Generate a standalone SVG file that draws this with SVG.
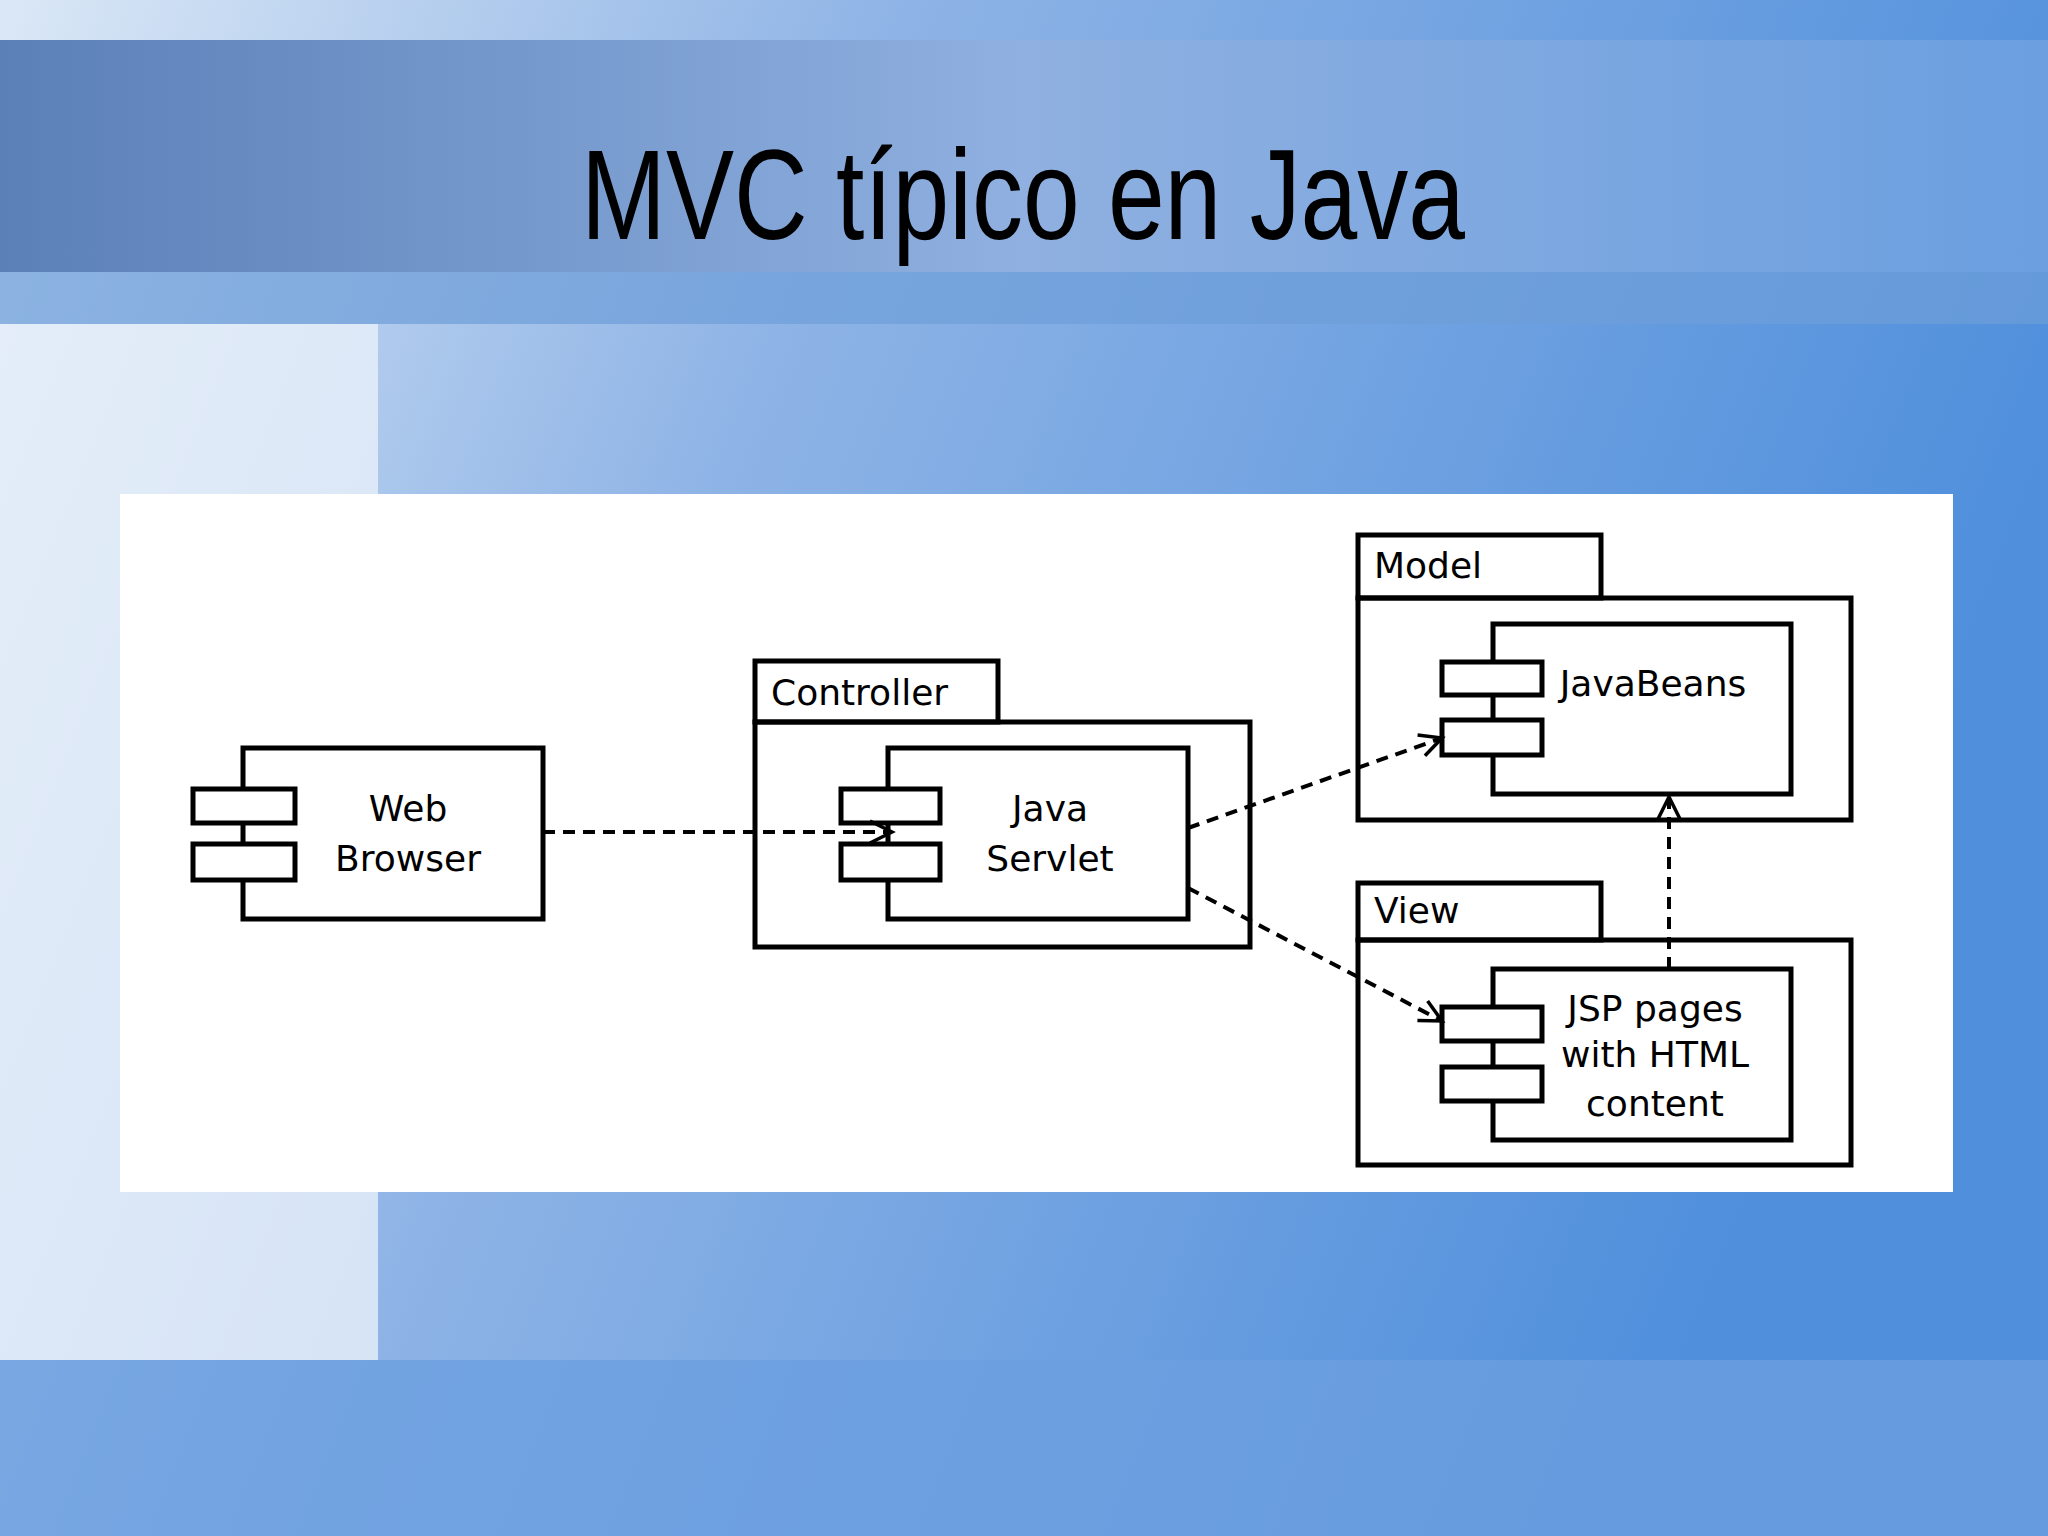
<svg xmlns="http://www.w3.org/2000/svg" width="2048" height="1536" viewBox="0 0 2048 1536">
<defs>
<linearGradient id="bg" x1="0" y1="0" x2="1" y2="0.3">
<stop offset="0" stop-color="#dbe8f6"/><stop offset="0.4" stop-color="#8fb4e6"/><stop offset="1" stop-color="#4f8fdc"/>
</linearGradient>
<linearGradient id="band" x1="0" y1="0" x2="1" y2="0">
<stop offset="0" stop-color="#5b80b8"/><stop offset="0.5" stop-color="#8fb0e0"/><stop offset="1" stop-color="#6b9fe0"/>
</linearGradient>
<marker id="ah" markerWidth="30" markerHeight="30" refX="24" refY="15" orient="auto" markerUnits="userSpaceOnUse">
<path d="M2,4 L24,15 L2,26" fill="none" stroke="#000" stroke-width="3.5"/>
</marker>
<style>
.b{fill:#fff;stroke:#000;stroke-width:5}
.p{fill:none;stroke:#000;stroke-width:5}
.t{font-family:"DejaVu Sans",sans-serif;font-size:36px;fill:#000}
.c{stroke:#000;stroke-width:4;stroke-dasharray:12,8;fill:none}
</style>
</defs>
<rect width="2048" height="1536" fill="url(#bg)"/>
<rect x="0" y="40" width="2048" height="232" fill="url(#band)"/>
<rect x="0" y="272" width="2048" height="52" fill="#6e9ed8" opacity="0.7"/>
<rect x="0" y="324" width="378" height="1036" fill="#e8f0fa" opacity="0.8"/>
<rect x="0" y="1360" width="2048" height="176" fill="#6b9fe0" opacity="0.8"/>
<text x="581" y="239" font-family="Liberation Sans, Arial, sans-serif" font-size="128" fill="#000" textLength="884" lengthAdjust="spacingAndGlyphs">MVC típico en Java</text>
<rect x="120" y="494" width="1833" height="698" fill="#fff"/>
<g id="browser">
<rect class="b" x="243" y="748" width="300" height="171"/>
<rect class="b" x="193" y="789" width="102" height="34"/>
<rect class="b" x="193" y="844" width="102" height="36"/>
<text class="t" x="408" y="821" text-anchor="middle">Web</text>
<text class="t" x="408" y="871" text-anchor="middle">Browser</text>
</g>
<g id="controller">
<rect class="p" x="755" y="661" width="243" height="61"/>
<rect class="p" x="755" y="722" width="495" height="225"/>
<text class="t" x="771" y="705">Controller</text>
</g>
<g id="servlet">
<rect class="b" x="888" y="748" width="300" height="171"/>
<rect class="b" x="841" y="789" width="99" height="34"/>
<rect class="b" x="841" y="844" width="99" height="36"/>
<text class="t" x="1050" y="821" text-anchor="middle">Java</text>
<text class="t" x="1050" y="871" text-anchor="middle">Servlet</text>
</g>
<g id="model">
<rect class="p" x="1358" y="535" width="243" height="63"/>
<rect class="p" x="1358" y="598" width="493" height="222"/>
<text class="t" x="1374" y="578">Model</text>
</g>
<g id="javabeans">
<rect class="b" x="1493" y="624" width="298" height="170"/>
<rect class="b" x="1442" y="662" width="100" height="33"/>
<rect class="b" x="1442" y="720" width="100" height="35"/>
<text class="t" x="1653" y="696" text-anchor="middle">JavaBeans</text>
</g>
<g id="view">
<rect class="p" x="1358" y="883" width="243" height="57"/>
<rect class="p" x="1358" y="940" width="493" height="225"/>
<text class="t" x="1374" y="923">View</text>
</g>
<g id="jsp">
<rect class="b" x="1493" y="969" width="298" height="171"/>
<rect class="b" x="1442" y="1007" width="100" height="34"/>
<rect class="b" x="1442" y="1067" width="100" height="34"/>
<text class="t" x="1655" y="1021" text-anchor="middle">JSP pages</text>
<text class="t" x="1655" y="1067" text-anchor="middle">with HTML</text>
<text class="t" x="1655" y="1116" text-anchor="middle">content</text>
</g>
<g id="connectors">
<line class="c" x1="543" y1="832" x2="892" y2="832" marker-end="url(#ah)"/>
<line class="c" x1="1188" y1="828" x2="1442" y2="738" marker-end="url(#ah)"/>
<line class="c" x1="1188" y1="888" x2="1442" y2="1021" marker-end="url(#ah)"/>
<line class="c" x1="1669" y1="969" x2="1669" y2="797" marker-end="url(#ah)"/>
</g>
</svg>
